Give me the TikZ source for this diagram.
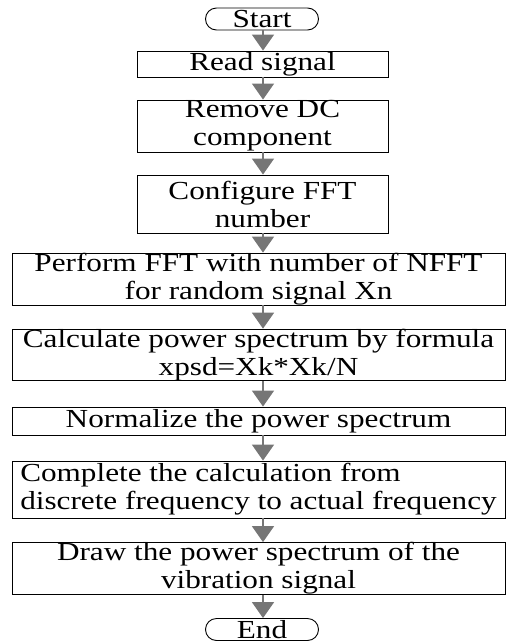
\documentclass[tikz,border=0pt]{standalone}
\usepackage{fontspec}
\setmainfont{Liberation Serif}[FakeStretch=1.2]
\usetikzlibrary{arrows.meta}
\definecolor{arrowgray}{HTML}{767676}
\begin{document}
\begin{tikzpicture}[x=1pt,y=-1pt,
  font=\fontsize{26}{28}\selectfont,
  box/.style={draw=black, line width=0.9pt, inner xsep=2pt, inner ysep=0pt, align=center},
  term/.style={draw=black, line width=0.9pt, rounded corners=11pt, minimum width=113pt, minimum height=22pt, inner sep=0pt},
  flow/.style={draw=arrowgray, line width=1.6pt, -{Triangle[width=22pt,length=16pt]}}]
\useasboundingbox (0,0) rectangle (506,643);
\coordinate (ax) at (263,0);
\node[term] (start) at (262,19) {Start};
\node[box, minimum width=251pt, minimum height=26pt] (read) at (262.5,64) {Read signal};
\node[box, minimum width=251pt, minimum height=52pt] (remove) at (262.5,126) {Remove DC\\component};
\node[box, minimum width=251pt, minimum height=58pt] (config) at (262.5,204) {Configure FFT\\number};
\node[box, minimum width=493pt, minimum height=42pt] (perform) at (258.5,279) {Perform FFT with number of NFFT\\for random signal Xn};
\node[box, minimum width=493pt, minimum height=50pt] (calc) at (258.5,355) {Calculate power spectrum by formula\\xpsd=Xk*Xk/N};
\node[box, minimum width=493pt, minimum height=28pt] (norm) at (258.5,421) {Normalize the power spectrum};
\node[box, minimum width=493pt, minimum height=57pt, align=left] (complete) at (258.5,489.5) {Complete the calculation from\\discrete frequency to actual frequency};
\node[box, minimum width=493pt, minimum height=51pt] (drawps) at (258.5,568.5) {Draw the power spectrum of the\\vibration signal};
\node[term] (end) at (262,629.5) {End};
\draw[flow] (start.south -| ax) -- (read.north -| ax);
\draw[flow] (read.south -| ax) -- (remove.north -| ax);
\draw[flow] (remove.south -| ax) -- (config.north -| ax);
\draw[flow] (config.south -| ax) -- (perform.north -| ax);
\draw[flow] (perform.south -| ax) -- (calc.north -| ax);
\draw[flow] (calc.south -| ax) -- (norm.north -| ax);
\draw[flow] (norm.south -| ax) -- (complete.north -| ax);
\draw[flow] (complete.south -| ax) -- (drawps.north -| ax);
\draw[flow] (drawps.south -| ax) -- (end.north -| ax);
\end{tikzpicture}
\end{document}
